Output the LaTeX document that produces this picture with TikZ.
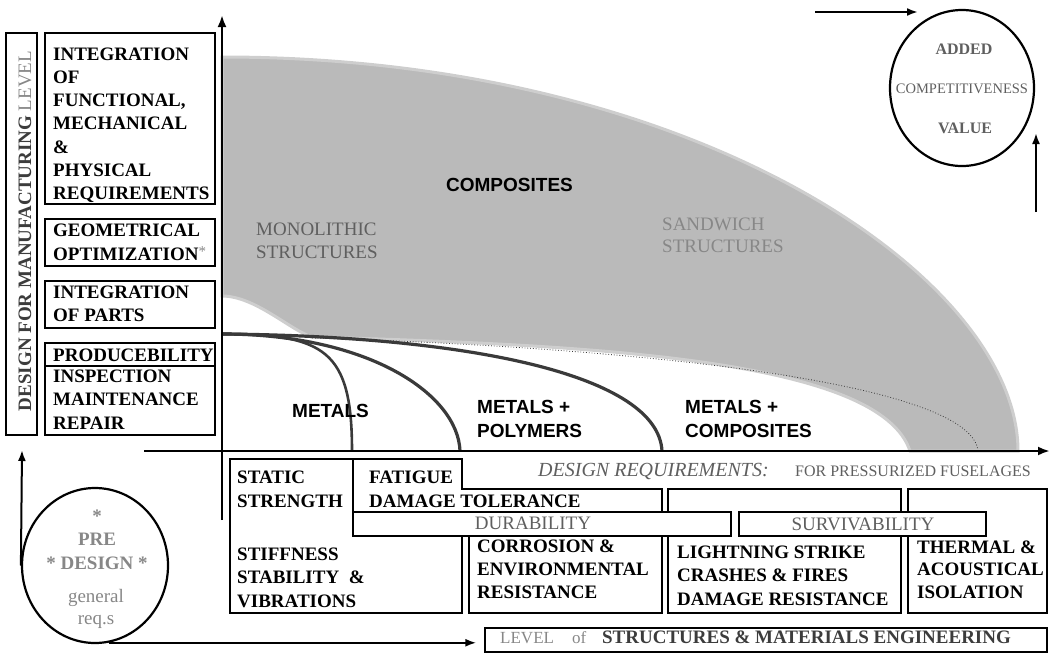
\documentclass[tikz,border=0pt]{standalone}
\usepackage{fontspec}
\setmainfont{Liberation Serif}
\newfontfamily\arialfont{Liberation Sans}
\usetikzlibrary{arrows.meta,shapes.geometric}

\definecolor{bandgray}{RGB}{186,186,186}
\definecolor{rimgray}{RGB}{206,206,206}
\definecolor{curvegray}{RGB}{58,58,58}
\definecolor{darktext}{RGB}{60,60,60}
\definecolor{midtext}{RGB}{95,95,95}
\definecolor{lighttext}{RGB}{135,135,135}

% multi-line nodes sit on the baseline of their last line
\tikzset{
  lbl/.style={anchor=base west, align=left, inner sep=0pt, font=\bfseries\fontsize{19}{23.3}\selectfont},
  thinlbl/.style={inner sep=0pt, font=\fontsize{19}{23}\selectfont},
  sanslbl/.style={anchor=base west, align=left, inner sep=0pt, font=\arialfont\bfseries\fontsize{19}{24}\selectfont},
  frame/.style={draw, line width=1.3pt, fill=white},
  axis/.style={line width=2.4pt, -{Latex[length=12pt,width=9pt]}},
  arr/.style={line width=2pt, -{Latex[length=11pt,width=8pt]}},
  metal/.style={draw=curvegray, line width=3.2pt},
  ring/.style={draw, ellipse, line width=2.2pt, inner sep=0pt},
}

\begin{document}
\begin{tikzpicture}[x=1pt,y=-1pt]
\useasboundingbox (0,0) rectangle (1053,654);

\fill[bandgray, draw=rimgray, line width=3pt] (222,57) .. controls (700,57) and (1018,280) .. (1018,451)
  -- (910,451) .. controls (880,360) and (600,345) .. (312,337)
  .. controls (290,330) and (255,296) .. (222,296) -- cycle;
\draw[curvegray, line width=0.8pt, dotted] (312,338) .. controls (660,348) and (972,385) .. (978,451);
\draw[metal, line width=2.6pt] (222,334) .. controls (325,334) and (352,350) .. (352,451);
\draw[metal] (222,334) .. controls (370,334) and (458,395) .. (460,451);
\draw[metal] (222,334) .. controls (470,336) and (658,375) .. (662,451);

\coordinate (hstart) at (144,451);
\coordinate (hend) at (1050,451);
\coordinate (vstart) at (222,520);
\coordinate (vend) at (222,15);
\draw[axis] (hstart) -- (hend);
\draw[axis] (vstart) -- (vend);

\draw (509.5,191) node[sanslbl, anchor=base] (comp) {COMPOSITES};
\draw (256,258) node[thinlbl, anchor=base west, align=left, text=midtext] (mono) {MONOLITHIC\\STRUCTURES};
\draw (662,252) node[thinlbl, anchor=base west, align=left, text=lighttext, font=\fontsize{19}{22}\selectfont] (sand) {SANDWICH\\STRUCTURES};
\draw (292,417) node[sanslbl] (met) {METALS};
\draw (477,437) node[sanslbl] (metpol) {METALS +\\POLYMERS};
\draw (685,437) node[sanslbl] (metcomp) {METALS +\\COMPOSITES};

\draw[line width=1.3pt] (6,33) rectangle (37,435);
\draw (25,231) node[rotate=90, inner sep=0pt, font=\fontsize{19}{23}\selectfont] (dfm)
  {{\bfseries\color{darktext}DESIGN FOR MANUFACTURING} {\color{lighttext}LEVEL}};
\draw[line width=1.3pt] (45,33) rectangle (215,204);
\draw[line width=1.3pt] (45,219) rectangle (215,266);
\draw[line width=1.3pt] (45,281) rectangle (215,328);
\draw[line width=1.3pt] (45,343) rectangle (215,366);
\draw[line width=1.3pt] (45,366) rectangle (215,435);
\draw (53,199.5) node[lbl, font=\bfseries\fontsize{19}{23.25}\selectfont] (funct) {INTEGRATION\\OF\\FUNCTIONAL,\\MECHANICAL\\\&\\PHYSICAL\\REQUIREMENTS};
\draw (53,260) node[lbl] (geom) {GEOMETRICAL\\OPTIMIZATION{\color{lighttext}\mdseries\fontsize{15}{15}\selectfont\raisebox{4pt}{*}}};
\draw (53,321.5) node[lbl] (parts) {INTEGRATION\\OF PARTS};
\draw (53,361) node[lbl] (prod) {PRODUCEBILITY};
\draw (53,429) node[lbl] (insp) {INSPECTION\\MAINTENANCE\\REPAIR};

\draw (962,88) node[ring, minimum width=144pt, minimum height=156pt] (value) {};
\draw (964,54) node[anchor=base, inner sep=0pt, text=midtext, font=\bfseries\fontsize{16}{16}\selectfont] (added) {ADDED};
\draw (962,93) node[anchor=base, inner sep=0pt, text=midtext, font=\fontsize{14.5}{15}\selectfont] (compet) {COMPETITIVENESS};
\draw (965,133) node[anchor=base, inner sep=0pt, text=midtext, font=\bfseries\fontsize{16}{16}\selectfont] (valtxt) {VALUE};
\coordinate (topin) at (815,12);
\coordinate (topout) at (918,12);
\coordinate (sidein) at (1036,212);
\coordinate (sideout) at (1036,133);
\draw[arr] (topin) -- (topout);
\draw[arr] (sidein) -- (sideout);

\draw (95,565.5) node[ring, minimum width=146pt, minimum height=155pt] (pre) {};
\draw (97,569) node[anchor=base, align=center, inner sep=0pt, text=lighttext, font=\bfseries\fontsize{19}{23.5}\selectfont] (pretxt) {*\\PRE\\* DESIGN *};
\draw (96,624) node[anchor=base, align=center, inner sep=0pt, text=lighttext, font=\fontsize{19}{22}\selectfont] (gentxt) {general\\req.s};
\coordinate (preup) at (22,450);
\draw[arr] (pre.west) -- (preup);

\draw (766,640) node[draw, line width=1.3pt, minimum width=562pt, minimum height=24pt, inner sep=0pt] (lvl) {};
\draw (500,643) node[anchor=base west, inner sep=0pt] (lvltxt)
  {{\color{lighttext}\fontsize{17}{17}\selectfont LEVEL\hspace{18pt}of}\hspace{16pt}{\color{darktext}\bfseries\fontsize{19}{19}\selectfont STRUCTURES \& MATERIALS ENGINEERING}};
\draw[arr, shorten >=8pt] (pre.-80) -- (pre.-80 -| lvl.west);

\draw[frame] (230,459) rectangle (462,613);
\draw[frame] (469,489) rectangle (662,613);
\draw[frame] (668,489) rectangle (901,613);
\draw[frame] (908,489) rectangle (1047,613);
\draw[frame] (353,459) -- (462,459) -- (462,489) -- (662,489) -- (662,512) -- (353,512) -- cycle;
\draw[frame] (353,512) rectangle (731,536);
\draw[frame] (739,512) rectangle (986,536);

\draw (237,507) node[lbl] (static) {STATIC\\STRENGTH};
\draw (237,607) node[lbl] (stiff) {STIFFNESS\\STABILITY\ \ \&\\VIBRATIONS};
\draw (369,507) node[lbl] (fatigue) {FATIGUE\\DAMAGE TOLERANCE};
\draw (477,598) node[lbl, font=\bfseries\fontsize{19}{23}\selectfont] (corr) {CORROSION \&\\ENVIRONMENTAL\\RESISTANCE};
\draw (677,605) node[lbl] (light) {LIGHTNING STRIKE\\CRASHES \& FIRES\\DAMAGE RESISTANCE};
\draw (917,598) node[lbl, font=\bfseries\fontsize{19}{22.5}\selectfont] (thermal) {THERMAL \&\\ACOUSTICAL\\ISOLATION};
\draw (533,529) node[thinlbl, anchor=base, text=midtext] (dura) {DURABILITY};
\draw (863,530) node[thinlbl, anchor=base, text=midtext] (surv) {SURVIVABILITY};
\draw (538,476) node[anchor=base west, inner sep=0pt, text=midtext, font=\itshape\fontsize{20}{20}\selectfont] (dreq) {DESIGN REQUIREMENTS:};
\draw (795,476) node[anchor=base west, inner sep=0pt, text=midtext, font=\fontsize{16}{16}\selectfont] (fuse) {FOR PRESSURIZED FUSELAGES};
\end{tikzpicture}
\end{document}
